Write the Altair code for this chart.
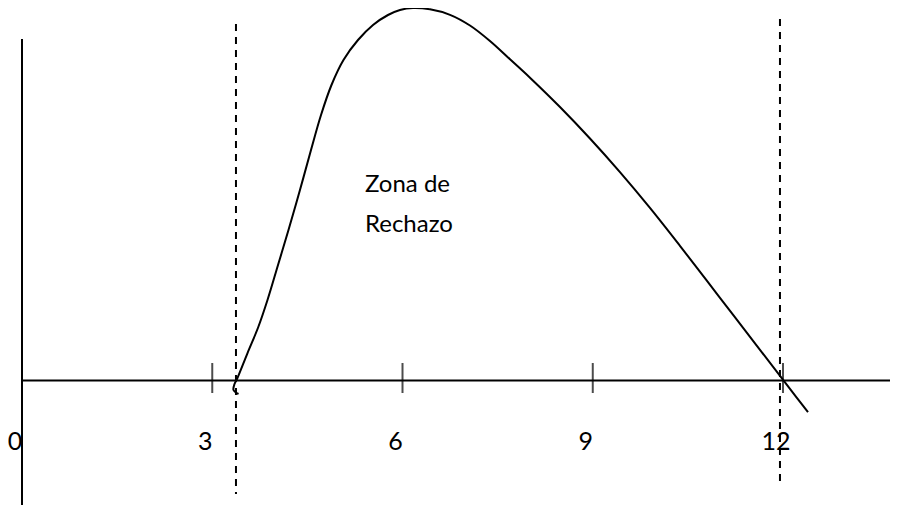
import altair as alt
import pandas as pd

# ---- data ----
# curve (x in axis units, y in arbitrary height units, peak = 100)
curve_x = [3.414, 3.335, 3.351, 3.390,
           3.556, 3.726, 3.871, 4.037, 4.202, 4.383, 4.557, 4.715, 4.880, 5.069,
           5.298, 5.535, 5.771, 5.960, 6.165,
           6.433, 6.749, 7.064, 7.379, 7.695, 8.010, 8.483, 8.956, 9.429, 9.902,
           10.375, 11.006, 11.637, 12.110, 12.394]
curve_y = [-3.62, -2.55, -0.94, 0.40,
           7.38, 14.36, 21.61, 31.01, 40.40, 51.14, 61.88, 71.28, 79.33, 86.04,
           91.41, 95.44, 98.12, 99.46, 100.0,
           99.65, 98.17, 95.30, 91.14, 86.23, 81.29, 73.42, 64.97, 55.95, 46.34,
           36.16, 22.20, 8.24, -2.23, -8.51]

# axis ticks and labels
tick_values = [0, 3, 6, 9, 12]
tick_labels = ["0", "3", "6", "9", "12"]

# critical values (dashed lines) and their extents
crit_x = [3.374, 11.952]
crit_top = [95.7, 97.05]
crit_bottom = [-30.47, -28.59]

# drawn axes extents
haxis_x = [0, 13.81]
vaxis_y = [91.68, -33.4]

# annotation
note_text = ["Zona de", "Rechazo"]
note_x = 5.408
note_y = 50.6

X_DOMAIN = [-0.2208, 13.687]
Y_DOMAIN = [-33.42, 100.0]
LABEL_Y = -18.66

# ---- tables ----
curve_df = pd.DataFrame({"x": curve_x, "y": curve_y, "i": list(range(len(curve_x)))})
ticks_df = pd.DataFrame({"x": tick_values, "y": [0] * len(tick_values),
                         "lab": tick_labels, "ly": [LABEL_Y] * len(tick_values)})
crit_df = pd.DataFrame({"x": crit_x, "y": crit_top, "y2": crit_bottom})
hax_df = pd.DataFrame({"x": [haxis_x[0]], "x2": [haxis_x[1]], "y": [0]})
vax_df = pd.DataFrame({"x": [0], "y": [vaxis_y[0]], "y2": [vaxis_y[1]]})
note_df = pd.DataFrame({"x": [note_x], "y": [note_y], "t": ["\n".join(note_text)]})

xs = alt.Scale(domain=X_DOMAIN, nice=False, zero=False)
ys = alt.Scale(domain=Y_DOMAIN, nice=False, zero=False)

X = alt.X("x:Q", scale=xs, axis=None)
Y = alt.Y("y:Q", scale=ys, axis=None)

hax = alt.Chart(hax_df).mark_rule(color="black", strokeWidth=2).encode(
    x=X, x2="x2:Q", y=Y)
vax = alt.Chart(vax_df).mark_rule(color="black", strokeWidth=2).encode(
    x=X, y=Y, y2="y2:Q")
ticks = alt.Chart(ticks_df).mark_tick(
    color="black", orient="vertical", size=30, thickness=2, yOffset=-2.5
).encode(x=X, y=Y)
labels = alt.Chart(ticks_df).mark_text(
    font="Lato", fontSize=25, color="black", align="center",
    baseline="alphabetic", dx=-7
).encode(x=X, y=alt.Y("ly:Q", scale=ys, axis=None), text="lab:N")
crit = alt.Chart(crit_df).mark_rule(
    color="black", strokeWidth=2, strokeDash=[7, 6]
).encode(x=X, y=Y, y2="y2:Q")
curve = alt.Chart(curve_df).mark_line(
    color="black", strokeWidth=2, interpolate="catmull-rom"
).encode(x=X, y=Y, order="i:Q")
note = alt.Chart(note_df).mark_text(
    font="Lato", fontSize=24, color="black", align="left",
    baseline="alphabetic", lineBreak="\n", lineHeight=40
).encode(x=X, y=Y, text="t:N")

chart = alt.layer(hax, vax, ticks, crit, curve, labels, note).properties(
    width=882, height=497,
    autosize=alt.AutoSizeParams(type="none"),
    padding=0,
    background="white",
).configure_view(stroke=None)

chart.save("out.html", embed_options={"renderer": "svg", "actions": False})
